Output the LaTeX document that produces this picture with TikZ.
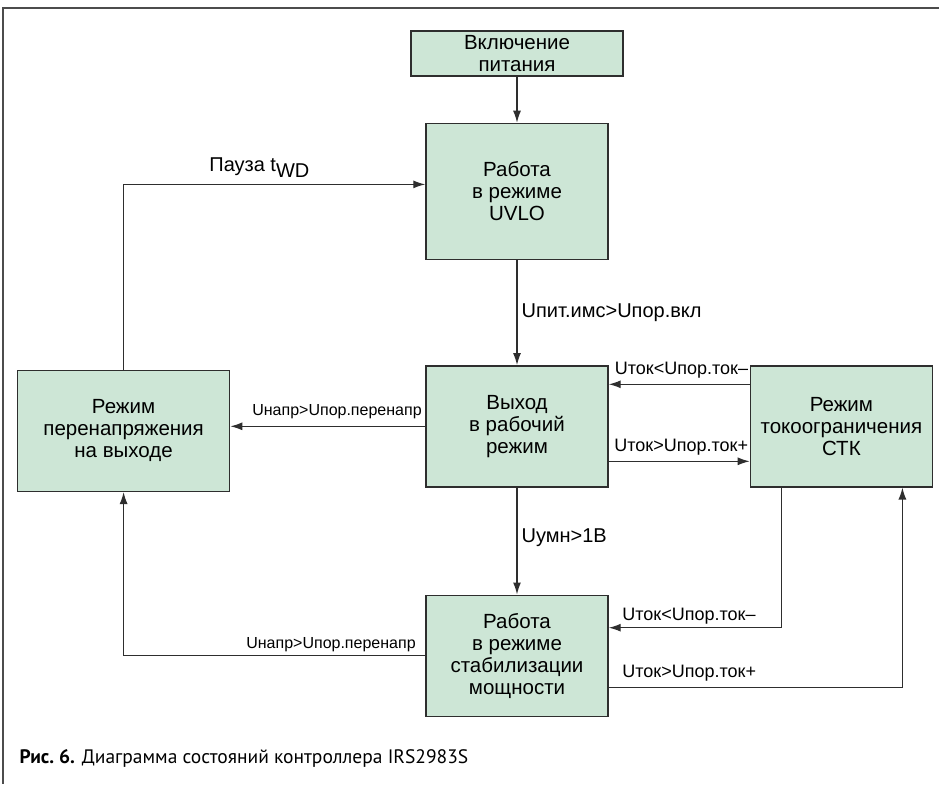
\documentclass[tikz,border=0pt]{standalone}
\usepackage{fontspec}
\setmainfont{Liberation Sans}
\newfontfamily\capfont{PT Sans}
\usetikzlibrary{positioning, arrows.meta}
\definecolor{statefill}{HTML}{CDE6D6}
\definecolor{lineclr}{HTML}{2E2E2E}

\begin{document}
\begin{tikzpicture}[
    x=1pt, y=-1pt,
    node distance=100pt,
    state/.style={draw=lineclr, fill=statefill, line width=1.4pt, align=center, minimum width=182pt, minimum height=121pt, font=\fontsize{20.5}{22}\selectfont},
    arrow/.style={-{Latex[length=12pt, width=8pt]}, draw=lineclr, line width=1.3pt},
    cond/.style={font=\fontsize{16}{18}\selectfont, inner sep=3pt},
    curcond/.style={font=\fontsize{18}{20}\selectfont, inner sep=1pt},
    bigcond/.style={font=\fontsize{20}{22}\selectfont, inner sep=4pt}
    ]
    \useasboundingbox (0,0) rectangle (939,784);
    \draw[gray!60!black, line width=1.6pt] (939,8) -- (3,8) -- (3,784);

    \node (power) [state, minimum width=212pt, minimum height=45pt] at (517,53.5) {Включение\\питания};
    \node (uvlo) [state, minimum height=136pt, below=46pt of power] {Работа\\в режиме\\UVLO};
    \node (output) [state, below=105pt of uvlo] {Выход\\в рабочий\\режим};
    \node (stab) [state, below=107pt of output] {Работа\\в режиме\\стабилизации\\мощности};
    \node (ctk) [state, right=141pt of output] {Режим\\токоограничения\\СТК};
    \node (ovp) [state, minimum width=212pt, left=195pt of output, yshift=-4.5pt] {Режим\\перенапряжения\\на выходе};

    \draw[arrow] (power) -- (uvlo);
    \draw[arrow] (uvlo) -- (output) node[bigcond, midway, right] {Uпит.имс>Uпор.вкл};
    \draw[arrow] (output) -- (stab) node[bigcond, midway, right, yshift=3pt] {Uумн>1В};
    \draw[arrow] (output.west) -- (output.west -| ovp.east) node[cond, pos=0, above left, yshift=4pt] {Uнапр>Uпор.перенапр};
    \draw[arrow] ([yshift=42pt]ctk.west) -- ([yshift=42pt]output.east) node[curcond, pos=0, above left, yshift=4pt] {Uток<Uпор.ток–};
    \draw[arrow] ([yshift=-35pt]output.east) -- ([yshift=-35pt]ctk.west) node[curcond, pos=1, above left, yshift=4pt] {Uток>Uпор.ток+};
    \draw[arrow] (ovp) |- ([yshift=7pt]uvlo.west) node[bigcond, pos=0.725, above, yshift=2pt] {Пауза t\raisebox{-6pt}{WD}};
    \draw[arrow] (stab.west) -| (ovp.south) node[cond, pos=0, above left, xshift=-6pt] {Uнапр>Uпор.перенапр};
    \draw[arrow] ([xshift=-60pt]ctk.south) |- ([yshift=28pt]stab.east) node[curcond, pos=1, above right, xshift=12pt, yshift=2pt] {Uток<Uпор.ток–};
    \draw[arrow] ([yshift=-32pt]stab.east) -| ([xshift=61pt]ctk.south) node[curcond, pos=0, above right, xshift=12pt, yshift=5pt] {Uток>Uпор.ток+};

    \node (caption) [anchor=base west, font=\capfont\fontsize{19.5}{22}\selectfont] at (16,763) {\textbf{Рис.~6.} Диаграмма состояний контроллера IRS2983S};
\end{tikzpicture}
\end{document}
